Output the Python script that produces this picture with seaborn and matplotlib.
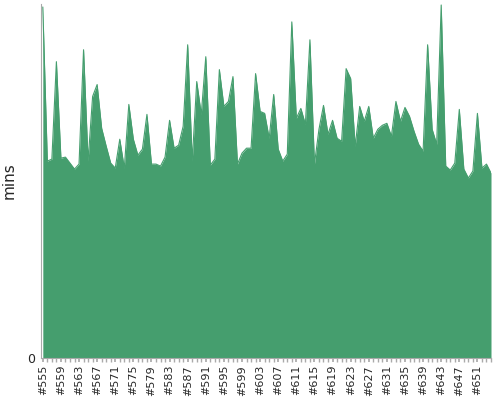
import matplotlib

matplotlib.use("Agg")

import matplotlib.pyplot as plt
import numpy as np
import seaborn as sns

builds = list(range(555, 655))
mins = [
    353, 198, 200, 298, 201, 202, 196, 190, 195, 310,
    198, 263, 275, 231, 213, 196, 191, 220, 191, 255,
    220, 204, 210, 245, 195, 195, 193, 202, 239, 211,
    214, 233, 315, 198, 278, 245, 303, 194, 200, 290,
    253, 258, 283, 195, 206, 211, 211, 286, 248, 246,
    221, 265, 210, 198, 205, 338, 241, 251, 235, 320,
    195, 230, 254, 225, 239, 221, 218, 291, 281, 213,
    253, 238, 253, 221, 230, 234, 236, 223, 258, 238,
    252, 243, 228, 215, 208, 315, 230, 215, 355, 193,
    189, 196, 250, 190, 181, 188, 246, 191, 195, 186,
]
labels = [f"#{b}" for b in builds]

sns.set_theme(style="white")
fig = plt.figure(figsize=(5, 4), dpi=100)
ax = fig.add_axes([0.082, 0.105, 0.9, 0.885])

x = np.arange(len(builds))
sns.lineplot(x=x, y=mins, ax=ax, color="#459e6e", linewidth=0.8)
ax.fill_between(x, mins, 0, color="#459e6e", linewidth=0)

ax.set_xlim(-0.4, len(builds) - 1)
ax.set_ylim(0, 356)
ax.set_xticks(x[::4])
ax.set_xticklabels(labels[::4], rotation=90, fontsize=8)
ax.set_xticks(x, minor=True)
ax.tick_params(axis="x", which="both", direction="out", length=3, color="#aaaaaa", pad=2, bottom=True)
ax.set_yticks([0])
ax.set_yticklabels(["0"], fontsize=9)
ax.tick_params(axis="y", length=0, pad=4)
ax.set_ylabel("mins", fontsize=11)
ax.yaxis.set_label_coords(-0.055, 0.5)
for side in ["top", "right"]:
    ax.spines[side].set_visible(False)
for side in ["left", "bottom"]:
    ax.spines[side].set_color("#aaaaaa")
    ax.spines[side].set_linewidth(0.8)

fig.savefig("out.png", dpi=100)
